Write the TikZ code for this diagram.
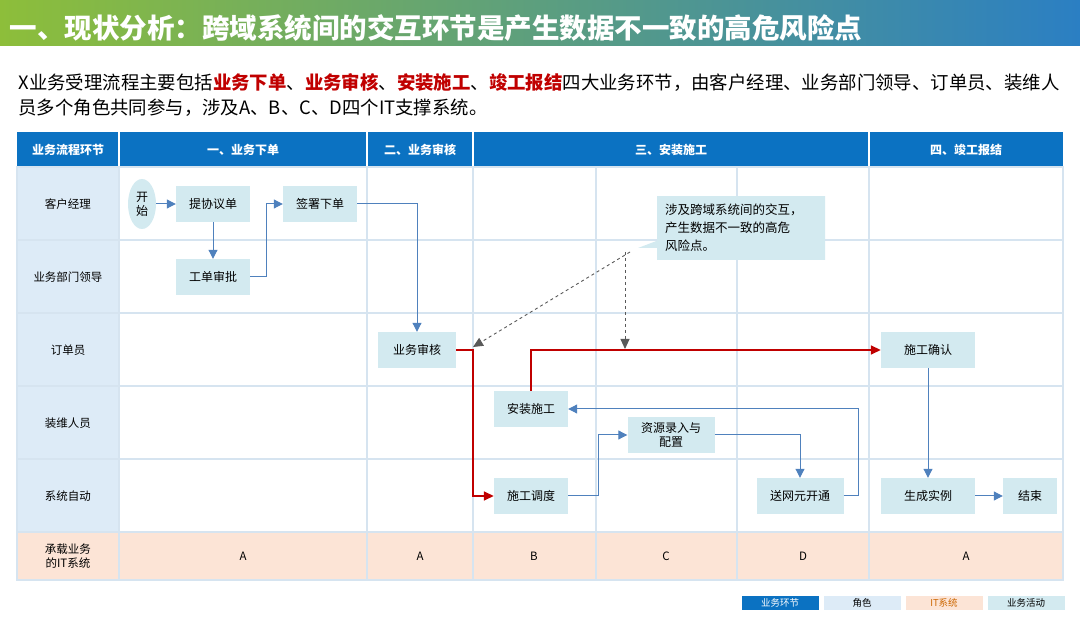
\documentclass[tikz,border=0pt]{standalone}
\usepackage{fontspec}
\setmainfont{Noto Sans CJK SC}
\usetikzlibrary{shapes.geometric,shapes.callouts,arrows.meta}
\definecolor{hdblue}{HTML}{0B72C2}
\definecolor{rolebg}{HTML}{DDEBF7}
\definecolor{itbg}{HTML}{FCE4D6}
\definecolor{actbg}{HTML}{D3EAF0}
\definecolor{gridc}{HTML}{D6E4F0}
\definecolor{flowblue}{HTML}{4F81BD}
\definecolor{flowred}{HTML}{C00000}
\definecolor{titgreen}{HTML}{8DBE3A}
\definecolor{titblue}{HTML}{2B7FC3}
\tikzset{
  act/.style={rectangle,fill=actbg,minimum width=74pt,minimum height=36pt,align=center,font=\fontsize{12}{14}\selectfont},
  hdtext/.style={text=white,font=\bfseries\fontsize{12}{14}\selectfont},
  celltext/.style={font=\fontsize{11.5}{14}\selectfont,align=center},
  bflow/.style={draw=flowblue,line width=1pt,-{Triangle[length=9pt,width=9pt]}},
  rflow/.style={draw=flowred,line width=1.6pt,-{Triangle[length=10pt,width=9pt]}},
  hint/.style={draw=gray!70!black,dashed,line width=0.9pt,-{Triangle[length=10pt,width=9pt]}},
  legbox/.style={rectangle,minimum width=77pt,minimum height=13pt,inner sep=0pt,font=\fontsize{9.5}{10}\selectfont}
}
\begin{document}
\begin{tikzpicture}[x=1pt,y=-1pt]
\useasboundingbox (0,0) rectangle (1080,617);
% title bar
\shade[left color=titgreen,right color=titblue] (0,0) rectangle (1080,46);
\node[anchor=west,text=white,font=\bfseries\fontsize{27.5}{30}\selectfont] (title) at (6,28) {一、现状分析：跨域系统间的交互环节是产生数据不一致的高危风险点};
\node[anchor=west,font=\fontsize{18.4}{22}\selectfont] (intro1) at (15,82) {X业务受理流程主要包括\textcolor{flowred}{\bfseries 业务下单}、\textcolor{flowred}{\bfseries 业务审核}、\textcolor{flowred}{\bfseries 安装施工}、\textcolor{flowred}{\bfseries 竣工报结}四大业务环节，由客户经理、业务部门领导、订单员、装维人};
\node[anchor=west,font=\fontsize{18.4}{22}\selectfont] (intro2) at (15,108) {员多个角色共同参与，涉及A、B、C、D四个IT支撑系统。};
% table backgrounds
\fill[hdblue] (17,132) rectangle (1063,167);
\fill[rolebg] (17,167) rectangle (119,532);
\fill[itbg] (17,532) rectangle (1063,580);
% grid
\foreach \y in {240,313,386,459,532}
  \draw[gridc,line width=1.2pt] (17,\y) -- (1063,\y);
\foreach \x in {119,367,473,869}
  \draw[white,line width=1.5pt] (\x,132) -- (\x,167);
\foreach \x in {119,367,473,596,737,869}
  \draw[gridc,line width=1.2pt] (\x,167) -- (\x,580);
\draw[gridc,line width=1.2pt] (17,167) rectangle (1063,580);
% header
\node[hdtext] (h0) at (68,150) {业务流程环节};
\node[hdtext] (h1) at (243,150) {一、业务下单};
\node[hdtext] (h2) at (420,150) {二、业务审核};
\node[hdtext] (h3) at (671,150) {三、安装施工};
\node[hdtext] (h4) at (966,150) {四、竣工报结};
% roles
\node[celltext] (r1) at (68,204) {客户经理};
\node[celltext] (r2) at (68,277) {业务部门领导};
\node[celltext] (r3) at (68,350) {订单员};
\node[celltext] (r4) at (68,423) {装维人员};
\node[celltext] (r5) at (68,496) {系统自动};
\node[celltext] (r6) at (68,556) {承载业务\\的IT系统};
% IT systems
\node[celltext] (sa1) at (243,556) {A};
\node[celltext] (sa2) at (420,556) {A};
\node[celltext] (sb) at (534,556) {B};
\node[celltext] (sc) at (666,556) {C};
\node[celltext] (sd) at (803,556) {D};
\node[celltext] (sa3) at (966,556) {A};
% activities
\node[ellipse,fill=actbg,minimum width=28pt,minimum height=50pt,inner sep=0pt,align=center,font=\fontsize{12}{14}\selectfont] (start) at (142,204) {开\\始};
\node[act] (xieyi) at (213,204) {提协议单};
\node[act] (qianshu) at (320,204) {签署下单};
\node[act] (shenpi) at (213,277) {工单审批};
\node[act,minimum width=78pt] (shenhe) at (417,350) {业务审核};
\node[act] (anzhuang) at (531,409) {安装施工};
\node[act,minimum width=87pt] (ziyuan) at (671,435) {资源录入与\\配置};
\node[act] (diaodu) at (531,496) {施工调度};
\node[act,minimum width=87pt] (kaitong) at (800,496) {送网元开通};
\node[act,minimum width=94pt] (queren) at (928,350) {施工确认};
\node[act,minimum width=94pt] (shili) at (928,496) {生成实例};
\node[act,minimum width=54pt] (jieshu) at (1030,496) {结束};
% callout
\node[rectangle callout,fill=actbg,text width=152pt,inner sep=8pt,align=left,
  font=\fontsize{12.5}{18}\selectfont,callout absolute pointer={(638,248)}] (note) at (741,228)
  {涉及跨域系统间的交互，\\产生数据不一致的高危\\风险点。};
% flows
\draw[bflow] (start) -- (xieyi);
\draw[bflow] (xieyi) -- (shenpi);
\draw[bflow] (shenpi.east) -- (266,277) -- (266,204) -- (qianshu.west);
\draw[bflow] (qianshu.east) -| (shenhe.north);
\draw[rflow] (shenhe.east) -- (473,350) |- (diaodu.west);
\draw[rflow] (anzhuang.north) |- (queren.west);
\draw[bflow] (diaodu.east) -- (598,496) |- (ziyuan.west);
\draw[bflow] (ziyuan.east) -| (kaitong.north);
\draw[bflow] (kaitong.east) -- (858,496) |- (anzhuang.east);
\draw[bflow] (queren) -- (shili);
\draw[bflow] (shili) -- (jieshu);
\coordinate (tip) at (630,252);
\draw[hint] (tip) -- (473,347);
\draw[hint] (625,252) -- (625,349);
% legend
\node[legbox,fill=hdblue,text=white] (lg1) at (780,603) {业务环节};
\node[legbox,fill=rolebg] (lg2) at (862,603) {角色};
\node[legbox,fill=itbg,text=orange!80!black] (lg3) at (944,603) {IT系统};
\node[legbox,fill=actbg] (lg4) at (1026,603) {业务活动};
\end{tikzpicture}
\end{document}
